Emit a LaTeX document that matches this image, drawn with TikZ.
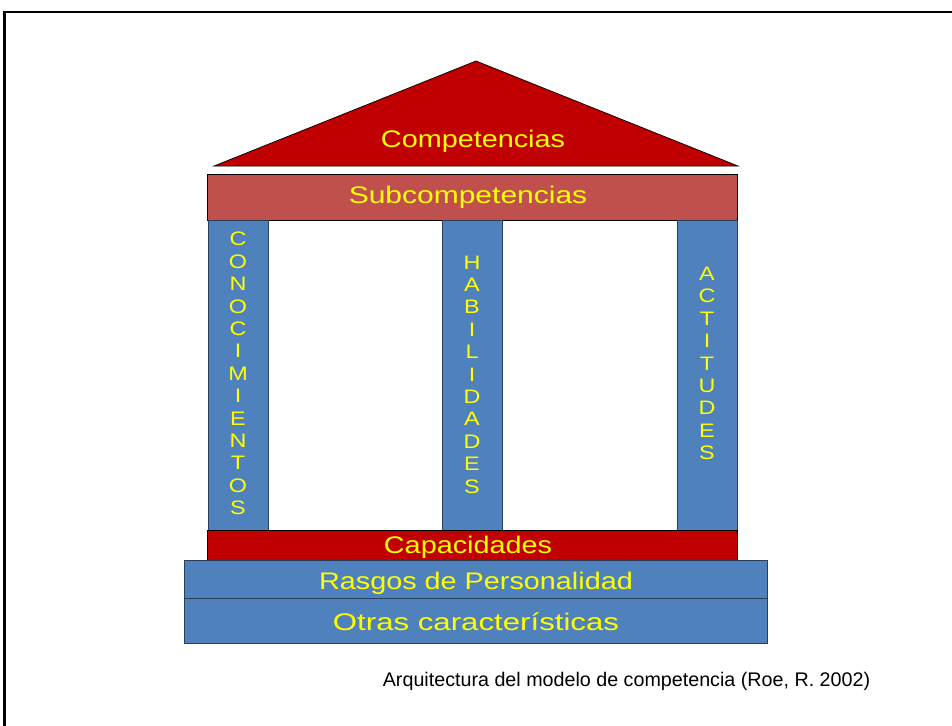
\documentclass[tikz,border=0pt]{standalone}
\usepackage{fontspec}
\newfontfamily\boxfont[FakeStretch=1.2]{Liberation Sans}
\newfontfamily\boxfontwide[FakeStretch=1.25]{Liberation Sans}
\newfontfamily\boxfontwider[FakeStretch=1.3]{Liberation Sans}
\newfontfamily\capfont{Liberation Sans}
\definecolor{roofred}{HTML}{C00000}
\definecolor{subred}{HTML}{C0504D}
\definecolor{pillarblue}{HTML}{4F81BD}
\definecolor{edgeblue}{HTML}{2A3F5C}
\definecolor{txtyellow}{HTML}{FFFF00}
\begin{document}
\begin{tikzpicture}[x=1pt,y=-1pt,
  slab/.style={draw=black, line width=0.9pt, inner sep=0pt, anchor=north west},
  pillar/.style={draw=edgeblue, line width=0.9pt, fill=pillarblue, inner sep=0pt, anchor=north west},
  pillartext/.style={text=txtyellow, align=center, inner sep=0pt,
    font={\boxfont\fontsize{19.5}{22.4}\selectfont}},
  bigtext/.style={text=txtyellow, inner sep=0pt, font={\boxfont\fontsize{24}{28}\selectfont}}]
\useasboundingbox (0,0) rectangle (952,725);
\fill[white] (0,0) rectangle (952,725);
% frame
\draw[line width=2.5pt] (4.7,726) -- (4.7,12) -- (953,12);
% roof
\coordinate (apex) at (476,61);
\coordinate (eaveL) at (214,166);
\coordinate (eaveR) at (738,166);
\draw[fill=roofred, line width=0.7pt] (eaveL) -- (apex) -- (eaveR) -- cycle;
\node[bigtext] (comp) at (473,141) {Competencias};
% subcompetencias
\node[slab, fill=subred, minimum width=530, minimum height=46] (sub) at (207,174) {};
\node[bigtext, font={\boxfontwide\fontsize{24}{28}\selectfont}] (subtxt) at (468,197) {Subcompetencias};
% pillars
\node[pillar, minimum width=60, minimum height=310] (colC) at (208,220) {};
\node[pillar, minimum width=60, minimum height=310] (colH) at (442,220) {};
\node[pillar, minimum width=60, minimum height=310] (colA) at (677,220) {};
\node[pillartext] (txtC) at (238,373.5) {C\\O\\N\\O\\C\\I\\M\\I\\E\\N\\T\\O\\S};
\node[pillartext] (txtH) at (472,374.5) {H\\A\\B\\I\\L\\I\\D\\A\\D\\E\\S};
\node[pillartext] (txtA) at (707,363.5) {A\\C\\T\\I\\T\\U\\D\\E\\S};
% capacidades
\node[slab, fill=roofred, minimum width=530, minimum height=30] (cap) at (207,530) {};
\node[bigtext] (captxt) at (468,547) {Capacidades};
% rasgos
\node[slab, draw=edgeblue, fill=pillarblue, minimum width=583, minimum height=38] (ras) at (184,560) {};
\node[bigtext] (rastxt) at (476,583) {Rasgos de Personalidad};
% otras
\node[slab, draw=edgeblue, fill=pillarblue, minimum width=583, minimum height=45] (otr) at (184,598) {};
\node[bigtext, font={\boxfontwider\fontsize{24}{28}\selectfont}] (otrtxt) at (476,622) {Otras características};
% caption
\node[inner sep=0pt, font={\capfont\fontsize{19.7}{22}\selectfont}] (caption) at (626.5,681) {Arquitectura del modelo de competencia (Roe, R. 2002)};
\end{tikzpicture}
\end{document}
